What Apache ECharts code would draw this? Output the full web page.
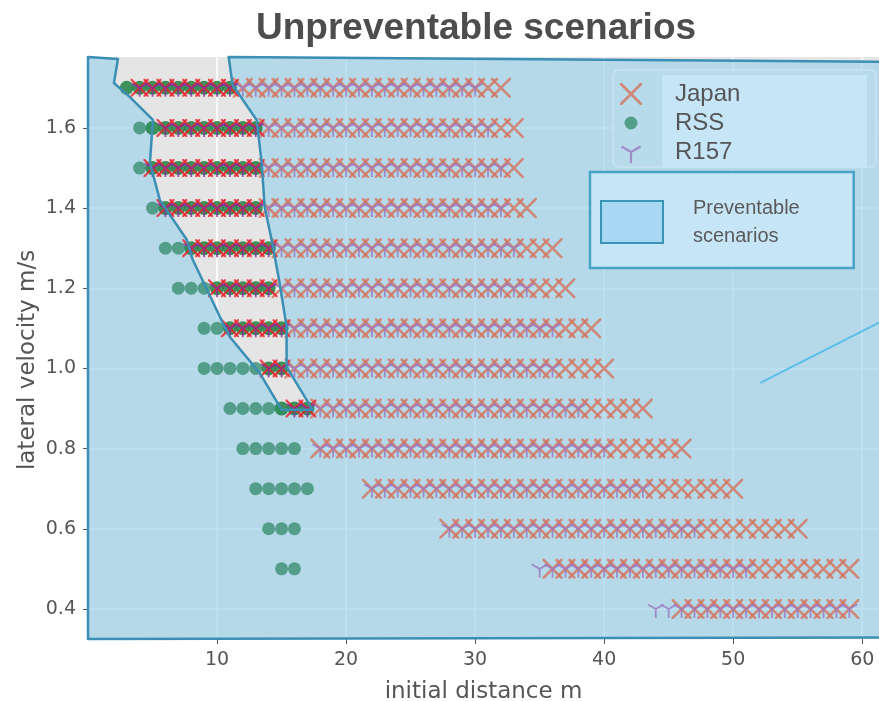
<!DOCTYPE html>
<html>
<head>
<meta charset="utf-8">
<script src="https://cdn.jsdelivr.net/npm/echarts@6/dist/echarts.min.js"></script>
<style>
  html, body { margin: 0; padding: 0; background: #fff; }
  #chart { width: 879px; height: 701px; }
</style>
</head>
<body>
<div id="chart"></div>
<script>
  // lateral velocity of each scenario row, m/s
  const velocities = [1.7, 1.6, 1.5, 1.4, 1.3, 1.2, 1.1, 1.0, 0.9, 0.8, 0.7, 0.6, 0.5, 0.4]
  // first and last initial distance (m) marked in each row, scenarios every 1 m
  const rssFrom = [3, 4, 4, 5, 6, 7, 9, 9, 11, 12, 13, 14, 15, null]
  const rssTo = [11, 13, 13, 13, 14, 14, 15, 15, 17, 16, 17, 16, 16, null]
  const japanFrom = [4, 6, 5, 6, 8, 10, 11, 14, 16, 18, 22, 28, 36, 46]
  const japanTo = [32, 33, 33, 34, 36, 37, 39, 40, 43, 46, 50, 55, 59, 59]
  const r157From = [4, 6, 5, 6, 8, 10, 11, 14, 16, 18, 22, 28, 35, 44]
  const r157To = [30, 31, 32, 32, 33, 34, 36, 36, 38, 40, 43, 47, 51, 59]

  // grey gap left uncovered by the preventable area, [distance, velocity]
  const unpreventable = [
    [2.32, 1.772], [2.01, 1.712], [3.25, 1.677], [5.03, 1.620], [4.80, 1.513],
    [5.57, 1.420], [7.66, 1.321], [8.12, 1.271], [10.44, 1.114], [10.98, 1.079],
    [13.30, 0.989], [15.00, 0.897], [17.40, 0.897], [15.39, 1.004], [15.39, 1.104],
    [14.85, 1.213], [14.23, 1.321], [13.69, 1.403], [13.46, 1.513], [13.07, 1.620],
    [11.21, 1.707], [10.90, 1.777]
  ]
  const strayLine = [[52.1, 0.964], [61.3, 1.114]]

  const xTicks = [10, 20, 30, 40, 50, 60]
  const yTicks = [0.4, 0.6, 0.8, 1.0, 1.2, 1.4, 1.6]
  const xMin = 0, xMax = 61.3, yMin = 0.325, yMax = 1.777

  const X_PATH = 'path://M0,0L1.8,0L10,8.2L18.2,0L20,0L20,1.8L11.8,10L20,18.2L20,20L18.2,20L10,11.8L1.8,20L0,20L0,18.2L8.2,10L0,1.8Z'
  const Y_SHAPE = 'M9,10L11,10L11,20L9,20Z' +
    'M9.5,10.866L0.84,5.866L1.84,4.134L10.5,9.134Z' +
    'M9.5,9.134L18.16,4.134L19.16,5.866L10.5,10.866Z'
  // tiny anchor keeps the junction of the Y on the data point
  const Y_PATH = 'path://M9.99,0L10.01,0L10,0.02Z' + Y_SHAPE
  const DOT_ICON = 'path://M0,0L0.02,0L0,0.02Z M22,22L21.98,22L22,21.98Z M4.5,11A6.5,6.5 0 1,1 17.5,11A6.5,6.5 0 1,1 4.5,11Z'

  function inside(p, poly) {
    let c = false
    for (let i = 0, j = poly.length - 1; i < poly.length; j = i++) {
      const xi = poly[i][0], yi = poly[i][1], xj = poly[j][0], yj = poly[j][1]
      if ((yi > p[1]) !== (yj > p[1]) && p[0] < (xj - xi) * (p[1] - yi) / (yj - yi) + xi) c = !c
    }
    return c
  }

  function rowPoints(from, to) {
    const pts = []
    velocities.forEach((v, i) => {
      if (from[i] == null) return
      for (let d = from[i]; d <= to[i]; d++) pts.push([d, v])
    })
    return pts
  }

  function split(pts) {
    return {
      out: pts.filter(p => !inside(p, unpreventable)),
      in: pts.filter(p => inside(p, unpreventable))
    }
  }

  const rss = split(rowPoints(rssFrom, rssTo))
  const japan = split(rowPoints(japanFrom, japanTo))
  const r157 = split(rowPoints(r157From, r157To))

  const preventable = [[xMin, yMax]].concat(unpreventable, [[63, 1.765], [63, 0.329], [xMin, yMin]])

  function polygonItem(fill, stroke) {
    return function (params, api) {
      return {
        type: 'polygon',
        shape: { points: preventable.map(p => api.coord(p)) },
        style: { fill: fill, stroke: stroke, lineWidth: 2.5, lineJoin: 'round' }
      }
    }
  }

  const labelFont = { fontFamily: 'DejaVu Sans', fontSize: 19, color: '#555' }

  const chart = echarts.init(document.getElementById('chart'))
  chart.setOption({
    animation: false,
    title: {
      text: 'Unpreventable scenarios',
      left: 251,
      top: 5,
      textStyle: { fontFamily: 'Liberation Sans', fontSize: 37, fontWeight: 'bold', color: '#4d4d4d' }
    },
    graphic: [
      { type: 'rect', z: 3, shape: { x: 613, y: 70, width: 263, height: 97, r: 6 },
        style: { fill: '#b8dbeb', stroke: '#c8e4f1', lineWidth: 1.5 } },
      { type: 'rect', z: 3, shape: { x: 662, y: 75, width: 205, height: 93 },
        style: { fill: '#c6e6f8' } }
    ],
    legend: [{
      z: 10,
      orient: 'vertical',
      left: 613,
      top: 67,
      padding: [15, 10, 4, 7],
      itemWidth: 24,
      itemHeight: 22,
      itemGap: 5,
      data: [
        { name: 'Japan' },
        { name: 'RSS', icon: DOT_ICON },
        { name: 'R157', icon: Y_PATH }
      ],
      textStyle: { fontFamily: 'Liberation Sans', fontSize: 24, color: '#555', padding: [0, 0, 0, 27] }
    }, {
      z: 10,
      orient: 'vertical',
      left: 590,
      top: 172,
      padding: [22, 54, 18, 10],
      backgroundColor: '#c6e6f7',
      borderColor: '#4aa2c7',
      borderWidth: 2.5,
      itemWidth: 62,
      itemHeight: 42,
      data: [{
        name: 'Preventable scenarios',
        icon: 'rect',
        itemStyle: { color: '#a6d8f3', borderColor: '#3a94b8', borderWidth: 2 }
      }],
      formatter: () => 'Preventable\nscenarios',
      textStyle: { fontFamily: 'Liberation Sans', fontSize: 20, lineHeight: 28, color: '#5a5a5a', padding: [0, 0, 0, 25] }
    }],
    grid: {
      left: 88,
      right: 0,
      top: 57,
      bottom: 62,
      outerBoundsMode: 'none',
      containLabel: false,
      show: true,
      backgroundColor: '#e5e5e5',
      borderWidth: 0
    },
    xAxis: {
      type: 'value',
      min: xMin,
      max: xMax,
      splitNumber: 6,
      name: 'initial distance m',
      nameLocation: 'middle',
      nameGap: 42,
      nameTextStyle: { fontFamily: 'DejaVu Sans', fontSize: 23, color: '#555' },
      axisLine: { show: false },
      axisTick: { show: true, length: 5, customValues: xTicks, lineStyle: { color: '#555' } },
      axisLabel: { ...labelFont, margin: 12, customValues: xTicks },
      splitLine: { show: true, lineStyle: { color: '#fff', width: 1.5 } }
    },
    yAxis: {
      type: 'value',
      min: yMin,
      max: yMax,
      splitNumber: 7,
      name: 'lateral velocity m/s',
      nameLocation: 'middle',
      nameRotate: 90,
      nameGap: 48,
      nameMoveOverlap: false,
      nameTextStyle: { fontFamily: 'DejaVu Sans', fontSize: 23, color: '#555', padding: [0, 24, 0, 0] },
      axisLine: { show: false },
      axisTick: { show: true, length: 5, customValues: yTicks, lineStyle: { color: '#555' } },
      axisLabel: { ...labelFont, margin: 12, customValues: yTicks, formatter: v => v.toFixed(1) },
      splitLine: { show: true, lineStyle: { color: '#fff', width: 1.5 } }
    },
    series: [
      {
        name: 'Preventable scenarios',
        type: 'custom',
        z: 1,
        data: [0],
        silent: true,
        itemStyle: { color: '#a6d8f3' },
        renderItem: polygonItem('rgba(155,210,234,0.65)', 'none')
      },
      { name: 'RSS', type: 'scatter', z: 3, symbol: 'circle', symbolSize: 13,
        itemStyle: { color: '#3a8e6f' }, data: rss.out },
      { name: 'RSS unpreventable', type: 'scatter', z: 3, symbol: 'circle', symbolSize: 14,
        itemStyle: { color: '#137a36' }, data: rss.in },
      { name: 'Japan', type: 'scatter', z: 4, symbol: X_PATH, symbolSize: 20, symbolKeepAspect: true,
        itemStyle: { color: '#d5725b' }, data: japan.out },
      { name: 'Japan unpreventable', type: 'scatter', z: 4, symbol: X_PATH, symbolSize: 18, symbolKeepAspect: true,
        itemStyle: { color: '#e8202a' }, data: japan.in },
      { name: 'R157', type: 'scatter', z: 5, symbol: Y_PATH, symbolSize: 18, symbolKeepAspect: true,
        itemStyle: { color: '#9a77c0' }, data: r157.out },
      { name: 'R157 unpreventable', type: 'scatter', z: 5, symbol: Y_PATH, symbolSize: 18, symbolKeepAspect: true,
        itemStyle: { color: '#8c2b9c' }, data: r157.in },
      { name: 'line', type: 'line', z: 4, symbol: 'none', silent: true,
        lineStyle: { color: '#5bbfea', width: 2 }, data: strayLine },
      {
        name: 'outline',
        type: 'custom',
        z: 6,
        data: [0],
        silent: true,
        renderItem: polygonItem('none', '#3b8fb5')
      }
    ]
  })
</script>
</body>
</html>
